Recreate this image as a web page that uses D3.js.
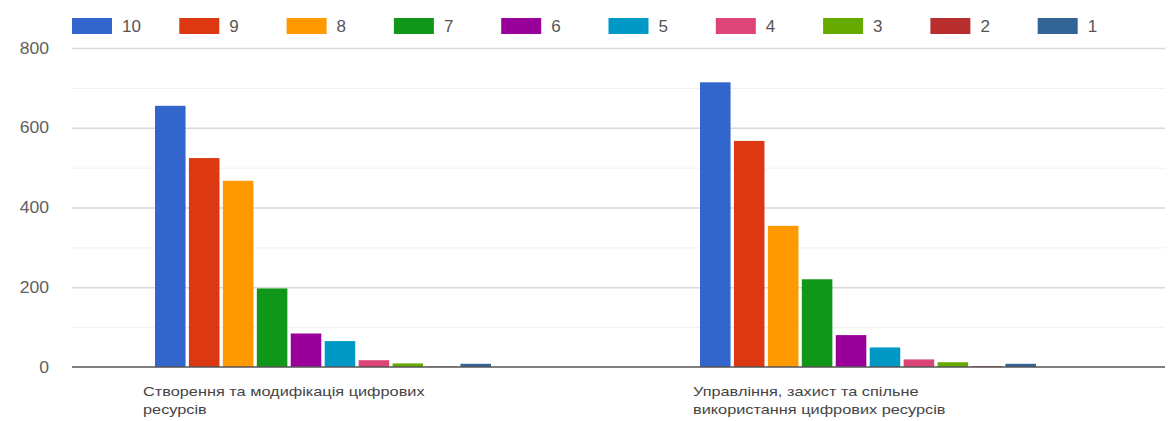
<!DOCTYPE html>
<html><head><meta charset="utf-8">
<script src="https://cdn.jsdelivr.net/npm/d3@7/dist/d3.min.js"></script>
<style>body{margin:0;background:#fff;}svg{display:block;font-family:"Liberation Sans",Arial,sans-serif;}</style>
</head><body>
<svg id="chart" width="1171" height="421"></svg>
<script>
const categories = [
  ["Створення та модифікація цифрових", "ресурсів"],
  ["Управління, захист та спільне", "використання цифрових ресурсів"]
];
const seriesNames = ["10","9","8","7","6","5","4","3","2","1"];
const seriesColors = ["#3366cc","#dc3912","#ff9900","#109618","#990099","#0099c6","#dd4477","#66aa00","#b82e2e","#316395"];
const group1Values = [655, 524, 467, 197, 84, 65, 17, 9, 1, 8];
const group2Values = [714, 567, 354, 220, 80, 49, 19, 12, 2, 8];
const yTicks = [0, 200, 400, 600, 800];
const yMinorTicks = [100, 300, 500, 700];

(function(){
const values = [group1Values, group2Values];
const catKeys = categories.map((c,i)=>"c"+i);

const svg = d3.select("#chart");
const pLeft = 72, pRight = 1165, pTop = 48, pBottom = 367;

const y = d3.scaleLinear().domain([0, 800]).range([pBottom, pTop]);
const x0 = d3.scaleBand().domain(catKeys).range([155, 1036]).paddingInner(0.3835).paddingOuter(0);
const x1 = d3.scaleBand().domain(seriesNames).range([0, x0.bandwidth()]).paddingInner(0.1);

svg.append("g").selectAll("line").data(yMinorTicks).join("line")
  .attr("x1", pLeft).attr("x2", pRight)
  .attr("y1", d=>y(d)+0.5).attr("y2", d=>y(d)+0.5)
  .attr("stroke", "#f0f0f0").attr("stroke-width", 1);
svg.append("g").selectAll("line").data(yTicks.filter(d=>d>0)).join("line")
  .attr("x1", pLeft).attr("x2", pRight)
  .attr("y1", d=>y(d)+0.5).attr("y2", d=>y(d)+0.5)
  .attr("stroke", "#d9d9d9").attr("stroke-width", 1.5);

const yAxis = d3.axisLeft(y).tickValues(yTicks).tickSize(0).tickPadding(0);
const ya = svg.append("g").attr("transform", `translate(49,0)`).call(yAxis);
ya.select(".domain").remove();
ya.selectAll("text").attr("font-size", 16).attr("fill", "#616161")
  .attr("font-family", "'Liberation Sans', Arial, sans-serif")
  .attr("transform", "scale(1.1,1)").attr("x", 0);

const groups = svg.append("g").selectAll("g").data(catKeys).join("g")
  .attr("transform", d=>`translate(${x0(d)},0)`);
groups.selectAll("rect").data((d,i)=>values[i].map((v,j)=>({v, s: seriesNames[j], c: seriesColors[j]})))
  .join("rect")
  .attr("x", d=>x1(d.s)).attr("width", x1.bandwidth())
  .attr("y", d=>y(d.v)).attr("height", d=>y(0)-y(d.v))
  .attr("fill", d=>d.c);

svg.append("line").attr("x1", pLeft).attr("x2", pRight)
  .attr("y1", y(0)).attr("y2", y(0)).attr("stroke", "#555").attr("stroke-width", 1.5);

const labelOffsets = [-12, -7];
catKeys.forEach((k,i)=>{
  const g = svg.append("g").attr("transform", `translate(${x0(k)+labelOffsets[i]},0) scale(1.36,1)`);
  const t = g.append("text").attr("font-size", 12).attr("fill", "#444");
  categories[i].forEach((line, li)=>{
    t.append("tspan").attr("x", 0).attr("y", 396 + li*18).text(line);
  });
});

const legend = svg.append("g").selectAll("g").data(seriesNames).join("g")
  .attr("transform", (d,i)=>`translate(${72 + i*107.3},18)`);
legend.append("rect").attr("width", 40).attr("height", 16).attr("fill", (d,i)=>seriesColors[i]);
legend.append("text").attr("x", 50).attr("y", 14).attr("font-size", 17).attr("fill", "#555").text(d=>d);
})();
</script>
</body></html>
